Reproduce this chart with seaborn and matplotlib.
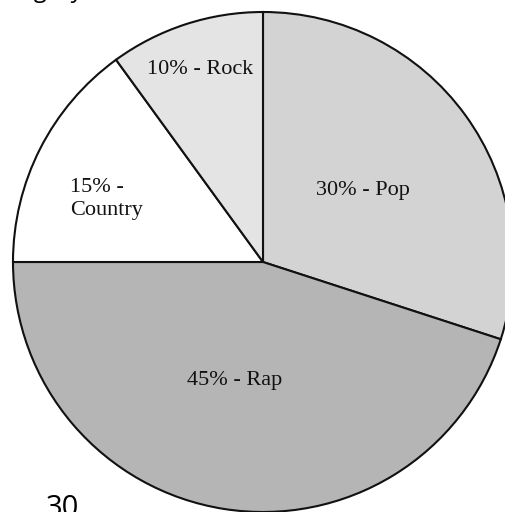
import matplotlib
matplotlib.use("Agg")
import matplotlib.pyplot as plt
import seaborn as sns

# music genre shares (percent), drawn clockwise from 12 o'clock
genres = ["Pop", "Rap", "Country", "Rock"]
shares = [30, 45, 15, 10]
slice_colors = ["#d3d3d3", "#b5b5b5", "#ffffff", "#e4e4e4"]
slice_labels = ["30% - Pop", "45% - Rap", "15% -\nCountry", "10% - Rock"]

sns.set_theme(style="white")
plt.rcParams["font.family"] = ["Liberation Serif", "DejaVu Serif"]

W, H = 506, 512
fig = plt.figure(figsize=(W / 100, H / 100), dpi=100)
ax = fig.add_axes([0, 0, 1, 1])

# pie centred at (263, 262) from the top, radius 250 px
cx, cy, r = 263, H - 262, 250
wedges, _ = ax.pie(shares, colors=slice_colors, startangle=90, counterclock=False,
                   center=(cx, cy), radius=r, frame=True,
                   wedgeprops=dict(edgecolor="#111111", linewidth=1.5))

# label positions in pixels from the top-left
label_pos = [(363, 190), (235, 381), (70, 199), (200, 69)]
for lab, (x, y) in zip(slice_labels, label_pos):
    ha = "left" if "Country" in lab else "center"
    ax.text(x, H - y, lab, ha=ha, va="center", fontsize=16, color="#111111",
            linespacing=1.25)

# cut-off page text around the chart
ax.text(-16, H + 3, "Category", ha="left", va="baseline", fontsize=17,
        family=["Open Sans", "DejaVu Sans"], color="black")
ax.text(46, H - 494, "30", ha="left", va="top", fontsize=21,
        family=["Open Sans", "DejaVu Sans"], color="black")

ax.set_xlim(0, W)
ax.set_ylim(0, H)
ax.set_aspect("equal")
ax.axis("off")

fig.savefig("out.png", dpi=100)
